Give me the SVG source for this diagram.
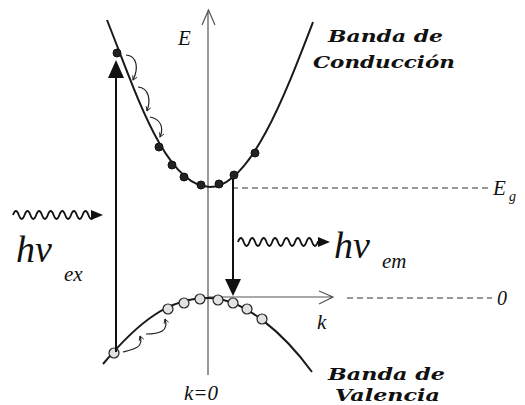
<svg xmlns="http://www.w3.org/2000/svg" width="525" height="405" viewBox="0 0 525 405">
<defs>
<style>
.ax{stroke:#555;stroke-width:1.2;fill:none}
.band{stroke:#1a1a1a;stroke-width:2;fill:none}
.dash{stroke:#333;stroke-width:1;stroke-dasharray:6,4;fill:none}
.arr{stroke:#111;stroke-width:2;fill:none}
.hop{stroke:#222;stroke-width:1.2;fill:none}
.wave{stroke:#111;stroke-width:1.8;fill:none}
.ce{fill:#222;stroke:#111;stroke-width:1}
.vh{fill:#e2e2e2;stroke:#222;stroke-width:1.2}
.lab{font-family:"Liberation Serif",serif;font-style:italic;fill:#111}
.ttl{font-family:"DejaVu Serif","Liberation Serif",serif;font-style:italic;font-weight:bold;font-size:17px;fill:#111}
</style>
<marker id="open" viewBox="0 0 10 10" refX="8" refY="5" markerWidth="6" markerHeight="6" orient="auto" markerUnits="userSpaceOnUse">
<path d="M1,1 L8,5 L1,9" fill="none" stroke="#222" stroke-width="1.5"/>
</marker>
</defs>
<rect width="525" height="405" fill="#fff"/>

<g id="axes">
<path class="ax" d="M208,375 V10 M202,25 L208.5,10 L215,25"/>
<path class="ax" d="M208,297 H333 M319,291 L333,297 L319,304"/>
<path class="dash" d="M232,188 H490"/>
<path class="dash" d="M347,298 H492"/>
</g>

<g id="conduction-band">
<path class="band" d="M107,20 C135,90 165,187 210,187 C250,187 285,95 313,22"/>
<circle class="ce" cx="117" cy="53" r="4"/>
<circle class="ce" cx="159" cy="147" r="4"/>
<circle class="ce" cx="172" cy="165" r="4"/>
<circle class="ce" cx="184" cy="177" r="4"/>
<circle class="ce" cx="201" cy="185" r="4"/>
<circle class="ce" cx="219" cy="184" r="4"/>
<circle class="ce" cx="234" cy="175" r="4"/>
<circle class="ce" cx="255" cy="153" r="4"/>
</g>

<g id="valence-band">
<path class="band" d="M103,364 C140,320 170,298 208,298 C245,298 285,335 312,372"/>
<circle class="vh" cx="114" cy="353" r="5"/>
<circle class="vh" cx="168" cy="309" r="5"/>
<circle class="vh" cx="184" cy="303" r="5"/>
<circle class="vh" cx="200" cy="299" r="5"/>
<circle class="vh" cx="218" cy="300" r="5"/>
<circle class="vh" cx="233" cy="303" r="5"/>
<circle class="vh" cx="247" cy="309" r="5"/>
<circle class="vh" cx="262" cy="319" r="5"/>
</g>

<g id="connectors">
<path class="arr" d="M116,352 V76"/>
<polygon points="116,60 108,78 124,78" fill="#111"/>
<path class="arr" d="M233,178 V280"/>
<polygon points="233,296 225,279 241,279" fill="#111"/>
<path class="hop" marker-end="url(#open)" d="M126,55 C137,56 139,68 133,80"/>
<path class="hop" marker-end="url(#open)" d="M138,87 C149,88 151,100 147,111"/>
<path class="hop" marker-end="url(#open)" d="M150,117 C161,119 164,128 160,137"/>
<path class="hop" marker-end="url(#open)" d="M123,352 C135,349 144,347 140,336"/>
<path class="hop" marker-end="url(#open)" d="M146,334 C160,334 169,331 165,319"/>
</g>

<g id="photon-ex">
<path class="wave" d="M13,215 q2.9,-8 5.8,0 t5.8,0 t5.8,0 t5.8,0 t5.8,0 t5.8,0 t5.8,0 t5.8,0 t5.8,0 t5.8,0 t5.8,0 t5.8,0 t5.8,0 t5.8,0 H96"/>
<polygon points="103,215 91,210 91,220" fill="#111"/>
<text class="lab" x="16" y="262" font-size="38">hν</text>
<text class="lab" x="64" y="281" font-size="21">ex</text>
</g>

<g id="photon-em">
<path class="wave" d="M238,242 q2.85,-8 5.7,0 t5.7,0 t5.7,0 t5.7,0 t5.7,0 t5.7,0 t5.7,0 t5.7,0 t5.7,0 t5.7,0 t5.7,0 t5.7,0 t5.7,0 t5.7,0 H322"/>
<polygon points="330,242 318,237 318,247" fill="#111"/>
<text class="lab" x="334" y="258" font-size="38">hν</text>
<text class="lab" x="382" y="268" font-size="21">em</text>
</g>

<g id="labels">
<text class="lab" x="178" y="45" font-size="21">E</text>
<text class="lab" x="493" y="195" font-size="21">E</text>
<text class="lab" x="509" y="201" font-size="14">g</text>
<text class="lab" x="497" y="305" font-size="20">0</text>
<text class="lab" x="317" y="329" font-size="21">k</text>
<text class="lab" x="184" y="400" font-size="21">k=0</text>
<text class="ttl" x="328" y="42" textLength="115" lengthAdjust="spacingAndGlyphs">Banda de</text>
<text class="ttl" x="313" y="68" textLength="142" lengthAdjust="spacingAndGlyphs">Conducción</text>
<text class="ttl" x="328" y="380" textLength="117" lengthAdjust="spacingAndGlyphs">Banda de</text>
<text class="ttl" x="335" y="401" textLength="105" lengthAdjust="spacingAndGlyphs">Valencia</text>
</g>
</svg>
